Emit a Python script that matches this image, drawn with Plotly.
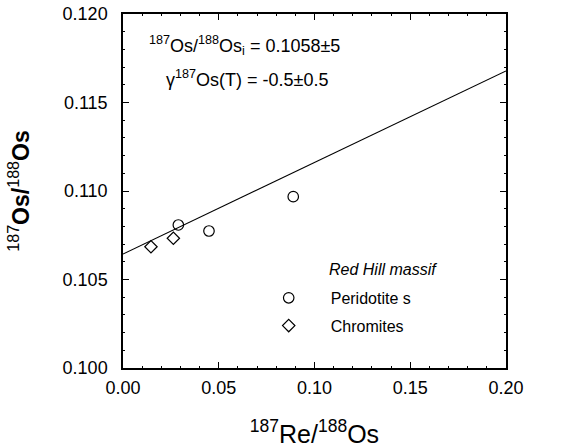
import plotly.graph_objects as go

# Data
peridotite_x = [0.0289, 0.0449, 0.0889]
peridotite_y = [0.10808, 0.10774, 0.10968]
chromite_x = [0.0146, 0.0263]
chromite_y = [0.10685, 0.10733]
fit_intercept = 0.10644
fit_slope = 0.0517
fit_x = [0.0, 0.2]
fit_y = [fit_intercept + fit_slope * v for v in fit_x]

x_ticks = [0.00, 0.05, 0.10, 0.15, 0.20]
x_ticklabels = ["0.00", "0.05", "0.10", "0.15", "0.20"]
y_ticks = [0.100, 0.105, 0.110, 0.115, 0.120]
y_ticklabels = ["0.100", "0.105", "0.110", "0.115", "0.120"]

FONT = "Liberation Sans, Arial, Helvetica, sans-serif"

fig = go.Figure()
fig.add_trace(go.Scatter(x=fit_x, y=fit_y, mode="lines",
                         line=dict(color="black", width=1.1),
                         showlegend=False, hoverinfo="skip"))
fig.add_trace(go.Scatter(x=peridotite_x, y=peridotite_y, mode="markers",
                         name="Peridotite s", legendgroup="a",
                         marker=dict(symbol="circle-open", size=10.5,
                                     color="black", line=dict(width=1.2))))
fig.add_trace(go.Scatter(x=chromite_x, y=chromite_y, mode="markers",
                         name="Chromites", legendgroup="b",
                         marker=dict(symbol="diamond-open", size=9.5,
                                     color="black", line=dict(width=1.2))))

axis_common = dict(
    showgrid=False, zeroline=False, showline=True, linecolor="black",
    linewidth=1.5, mirror="ticks", ticks="inside", ticklen=6,
    tickwidth=1.2, tickcolor="black", automargin=False,
    ticklabeloverflow="allow",
    tickfont=dict(family=FONT, size=18, color="black"),
)

fig.update_xaxes(**axis_common, range=[0, 0.2], tickvals=x_ticks,
                 ticktext=x_ticklabels, ticklabelstandoff=3,
                 minor=dict(dtick=0.01, ticks="inside", ticklen=2,
                            tickcolor="black", tickwidth=1.2),
                 title=dict(text="<sup>187</sup>Re/<sup>188</sup>Os",
                            font=dict(family=FONT, size=25, color="black"),
                            standoff=28))
fig.update_yaxes(**axis_common, range=[0.100, 0.120], tickvals=y_ticks,
                 ticktext=y_ticklabels, ticklabelstandoff=10,
                 minor=dict(dtick=0.001, ticks="inside", ticklen=2,
                            tickcolor="black", tickwidth=1.2),
                 title=dict(text="<sup>187</sup><b>Os/</b><sup>188</sup><b>Os</b>",
                            font=dict(family=FONT, size=23, color="black"),
                            standoff=27))

fig.add_annotation(xref="paper", yref="paper", x=0.062, y=0.912,
                   xanchor="left", yanchor="middle", showarrow=False,
                   text="<sup>187</sup>Os/<sup>188</sup>Os<sub>i</sub> = 0.1058\u00b15",
                   font=dict(family=FONT, size=18, color="black"))
fig.add_annotation(xref="paper", yref="paper", x=0.107, y=0.817,
                   xanchor="left", yanchor="middle", showarrow=False,
                   text="\u03b3<sup>187</sup>Os(T) = -0.5\u00b10.5",
                   font=dict(family=FONT, size=18, color="black"))
fig.add_annotation(xref="paper", yref="paper", x=0.533, y=0.277,
                   xanchor="left", yanchor="middle", showarrow=False,
                   text="<i>Red Hill massif</i>",
                   font=dict(family=FONT, size=16, color="black"))

fig.update_layout(
    width=565, height=448,
    margin=dict(l=123, r=59, t=14, b=80),
    paper_bgcolor="white", plot_bgcolor="white",
    showlegend=True,
    legend=dict(x=0.323, y=0.246, xanchor="left", yanchor="top",
                bgcolor="rgba(0,0,0,0)", itemwidth=74,
                traceorder="grouped", tracegroupgap=4,
                font=dict(family=FONT, size=16, color="black")),
)

# Remove the browser's default 8px body margin so the figure fills the window
fig.write_html("out.html",
               config={"displayModeBar": False},
               post_script="document.body.style.margin='0';"
                           "document.body.style.overflow='hidden';")
